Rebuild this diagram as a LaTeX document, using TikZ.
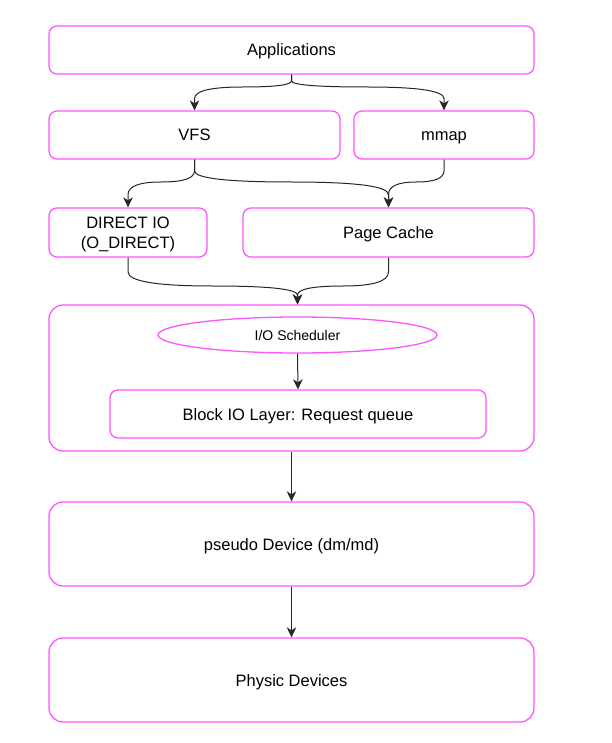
\documentclass[tikz,border=0pt]{standalone}
\usepackage{fontspec}
\setmainfont{Liberation Sans}
\usetikzlibrary{arrows.meta,shapes.geometric,calc}

\definecolor{boxpink}{HTML}{FF55FF}

\tikzset{
  box/.style={draw=boxpink, line width=1.3pt, rounded corners=8pt, inner sep=0pt,
    font=\fontsize{16.5}{20}\selectfont, align=center, text height=12pt, text depth=0pt},
  bigbox/.style={box, rounded corners=14pt},
  sched/.style={draw=boxpink, line width=1.3pt, ellipse, inner sep=0pt,
    font=\fontsize{14}{16}\selectfont, text height=10pt, text depth=0pt},
  arr/.style={draw=black!85, line width=1pt, -{Stealth[length=10pt,width=9.5pt,inset=3pt]}},
  curvy/.style={to path={
    -- ($(\tikztostart)!.5!(\tikztostart |- #1)$)
    .. controls ($(\tikztostart)!5/6!(\tikztostart |- #1)$)
       and ($(\tikztostart |- #1)!1/6!(\tikztotarget |- #1)$)
    .. ($(\tikztostart |- #1)!.5!(\tikztotarget |- #1)$)
    .. controls ($(\tikztotarget |- #1)!1/6!(\tikztostart |- #1)$)
       and ($(\tikztotarget)!5/6!(\tikztotarget |- #1)$)
    .. ($(\tikztotarget)!.5!(\tikztotarget |- #1)$)
    -- (\tikztotarget)}}
}

\begin{document}
\begin{tikzpicture}[x=1pt, y=-1pt]

\useasboundingbox (0,0) rectangle (612,743);

% upper layers
\node (app) [box, minimum width=485pt, minimum height=48pt] at (291.5,50) {Applications};
\node (vfs) [box, minimum width=291pt, minimum height=48pt] at (194.5,135) {VFS};
\node (mmap) [box, minimum width=180pt, minimum height=48pt] at (444,135) {mmap};
\node (dio) [box, minimum width=158pt, minimum height=49pt, text height=32pt] at (128,232.5) {DIRECT IO\\(O\_DIRECT)};
\node (pc) [box, minimum width=291pt, minimum height=49pt] at (388.5,232.5) {Page Cache};

% block layer
\node (blk) [bigbox, minimum width=485pt, minimum height=146pt] at (291.5,378) {};
\node (iosched) [sched, minimum width=279pt, minimum height=36pt] at (297.5,335) {I/O Scheduler};
\node (req) [box, minimum width=376pt, minimum height=48pt] at (298,414) {Block IO Layer: Request queue};

% devices
\node (pseudo) [bigbox, minimum width=485pt, minimum height=84pt] at (291.5,544) {pseudo Device (dm/md)};
\node (phys) [bigbox, minimum width=485pt, minimum height=84pt] at (291.5,680) {Physic Devices};

% levels where the curved connectors turn
\coordinate (lvlA) at (0,87);
\coordinate (lvlB) at (0,182);
\coordinate (lvlC) at (0,286);
\coordinate (blkin) at (iosched.north |- blk.north);

\draw[arr] (app.south) to[curvy=lvlA] (vfs.north);
\draw[arr] (app.south) to[curvy=lvlA] (mmap.north);

\draw[arr] (vfs.south) to[curvy=lvlB] (dio.north);
\draw[arr] (vfs.south) to[curvy=lvlB] (pc.north);
\draw[arr] (mmap.south) to[curvy=lvlB] (pc.north);

\draw[arr] (dio.south) to[curvy=lvlC] (blkin);
\draw[arr] (pc.south) to[curvy=lvlC] (blkin);

\draw[arr] (iosched.south) -- (req.north);
\draw[arr] (blk.south) -- (pseudo.north);
\draw[arr] (pseudo.south) -- (phys.north);

\end{tikzpicture}
\end{document}
